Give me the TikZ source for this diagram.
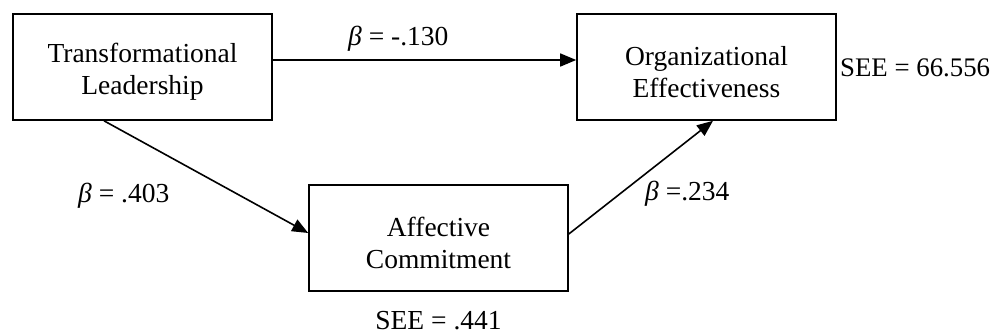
\documentclass[tikz,border=0pt]{standalone}
\usepackage{fontspec}
\setmainfont{Liberation Serif}
\usetikzlibrary{arrows.meta}
\begin{document}
\begin{tikzpicture}[x=1pt,y=-1pt,
  box/.style={draw=black, line width=1.6pt, minimum width=259pt, minimum height=106pt, inner sep=0pt},
  boxtext/.style={align=center, font=\fontsize{27.5}{32}\selectfont, inner sep=0pt},
  lbl/.style={font=\fontsize{27.5}{32}\selectfont, inner sep=0pt},
  arr/.style={line width=1.6pt, -{Triangle[length=16pt,width=13pt]}}]
\useasboundingbox (0,0) rectangle (994,335);
% boxes
\node[box] (TL) at (142.5,67) {};
\node[box] (OE) at (706.5,67) {};
\node[box] (AC) at (438.5,238) {};
\node[boxtext] (TLt) at ([yshift=-5pt]TL.center) {Transformational\\Leadership};
\node[boxtext] (OEt) at ([yshift=-5pt]OE.center) {Organizational\\Effectiveness};
\node[boxtext] (ACt) at ([yshift=-5pt]AC.center) {Affective\\Commitment};
% connectors
\draw[arr] ([yshift=7pt]TL.east) -- ([yshift=7pt]OE.west);
\draw[arr] ([xshift=-38.5pt]TL.south) -- ([yshift=5pt]AC.west);
\draw[arr] ([yshift=4pt]AC.east) -- ([xshift=6.5pt]OE.south);
% labels
\node[lbl, anchor=base west] (b1) at (348,45) {{\itshape β} = -.130};
\node[lbl, anchor=base west] (b2) at (78,202) {{\itshape β} = .403};
\node[lbl, anchor=base west] (b3) at (645,200) {{\itshape β} =.234};
\node[lbl, anchor=base west, font=\fontsize{26.8}{32}\selectfont] (s1) at (840,76) {SEE = 66.556};
\node[lbl, anchor=base] (s2) at (438.5,329) {SEE = .441};
\end{tikzpicture}
\end{document}
